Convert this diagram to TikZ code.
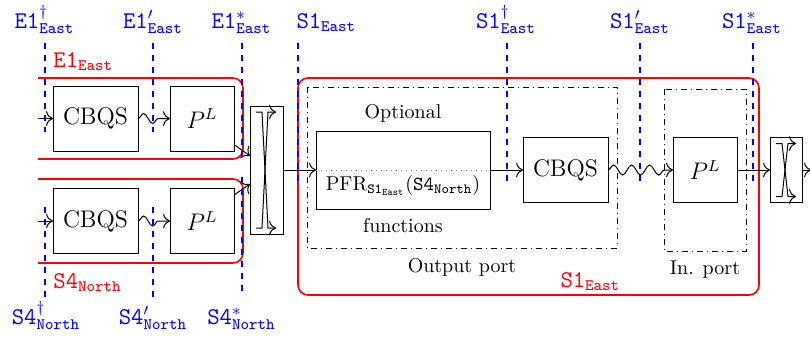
\documentclass[tikz,border=0pt]{standalone}
\usepackage{amsmath,amssymb}
\usepackage{xcolor}
\usepackage{tikz}
\usetikzlibrary{arrows.meta,positioning,decorations.pathmorphing}

\begin{document}
\begin{tikzpicture}[
			x=0.5pt,y=-0.5pt,
			line width=0.5pt,
			node distance=16.5pt,
			box/.style={draw,inner sep=0pt,outer sep=0pt,minimum height=32.5pt,font=\large},
			qbox/.style={box,minimum width=42.5pt},
			pbox/.style={box,minimum width=32pt},
			swbox/.style={draw,inner sep=0pt,outer sep=0pt,minimum width=16.5pt},
			arrow/.style={-{To[scale=1.3]}},
			wave/.style={arrow,decorate,decoration={snake,amplitude=2.5pt,segment length=9pt,post length=2pt}},
			zone/.style={red,thick,rounded corners=5pt},
			port/.style={dashdotted},
			cut/.style={blue,thick,dashed},
			cutlabel/.style={blue,inner sep=1pt,anchor=base,font=\large},
			zonelabel/.style={red,inner sep=1pt,anchor=base west,font=\large},
			note/.style={inner sep=1pt,anchor=base}
			]
			\useasboundingbox (0,0) rectangle (810,345);
			\draw[zone] (38,78) -| (243,159) -- (38,159);
			\draw[zone] (38,179) -| (243,263) -- (38,263);
			\draw[zone] (298,78) rectangle (759,295);
			\draw[port] (307,87) rectangle (617,248);
			\draw[port] (664,89) rectangle (746,251);
			\node[qbox] (cbqsA) at (95.5,118.5) {CBQS};
			\node[pbox, right=16pt of cbqsA] (plA) {$P^L$};
			\node[qbox] (cbqsB) at (95.5,221) {CBQS};
			\node[pbox, right=16pt of cbqsB] (plB) {$P^L$};
			\node[swbox, minimum height=64pt] (swA) at (266.5,170) {};
			\node[box, minimum width=87pt, minimum height=39pt, right=of swA] (pfr) {};
			\node[qbox, right=of pfr] (cbqsC) {CBQS};
			\node[pbox, right=32.5pt of cbqsC] (plC) {$P^L$};
			\node[swbox, minimum width=16pt, minimum height=32.5pt, right=of plC] (swB) {};
			\draw[dotted, gray] (pfr.west) -- (pfr.east);
			\node[note] (opt) at (403,118) {Optional};
			\node[note] (pfrtext) at (403,190) {PFR$_{\mathtt{S1}_{\mathtt{East}}}$($\mathtt{S4}_{\mathtt{North}}$)};
			\node[note] (fun) at (403,232) {functions};
			\node[note] (outport) at (462,272) {Output port};
			\node[note] (inport) at (705,274) {In. port};
			\coordinate (inA) at (38,118.5);
			\coordinate (inB) at (38,221);
			\coordinate (outB) at (811,170);
			\draw[arrow] (inA) -- (cbqsA);
			\draw[arrow] (inB) -- (cbqsB);
			\draw[wave] (cbqsA) -- (plA);
			\draw[wave] (cbqsB) -- (plB);
			\draw[arrow] ([yshift=-13pt]plA.east) -- ([yshift=7pt]swA.west);
			\draw[arrow] ([yshift=13pt]plB.east) -- ([yshift=-7pt]swA.west);
			\draw[arrow] (swA) -- (pfr);
			\draw[arrow] (pfr) -- (cbqsC);
			\draw[wave] (cbqsC) -- (plC);
			\draw[arrow] (plC) -- (swB);
			\draw[arrow] (swB) -- (outB);
			\draw[arrow] ([shift={(3pt,-3pt)}]swA.north west) -- ++(3pt,0) -- ([shift={(9pt,3pt)}]swA.south west) -- ++(4pt,0);
			\draw[arrow] ([shift={(3pt,3pt)}]swA.south west) -- ++(3pt,0) -- ([shift={(9pt,-3pt)}]swA.north west) -- ++(4pt,0);
			\draw[arrow] ([shift={(3pt,-3pt)}]swB.north west) -- ++(3pt,0) -- ([shift={(9pt,3pt)}]swB.south west) -- ++(4pt,0);
			\draw[arrow] ([shift={(3pt,3pt)}]swB.south west) -- ++(3pt,0) -- ([shift={(9pt,-3pt)}]swB.north west) -- ++(4pt,0);
			\draw[cut] (45,43) -- (45,132);
			\draw[cut] (153,43) -- (153,132);
			\draw[cut] (242,43) -- (242,160);
			\draw[cut] (45,207) -- (45,297);
			\draw[cut] (153,207) -- (153,297);
			\draw[cut] (242,177) -- (242,297);
			\draw[cut] (298,43) -- (298,182);
			\draw[cut] (507,43) -- (507,182);
			\draw[cut] (640,43) -- (640,182);
			\draw[cut] (753,43) -- (753,182);
			\node[cutlabel] (e1d) at (44.5,28) {$\mathtt{E1}^{\dagger}_{\mathtt{East}}$};
			\node[cutlabel] (e1p) at (153,28) {$\mathtt{E1}'_{\mathtt{East}}$};
			\node[cutlabel] (e1s) at (241.5,28) {$\mathtt{E1}^{*}_{\mathtt{East}}$};
			\node[cutlabel, anchor=base west] (s1) at (294,28) {$\mathtt{S1}_{\mathtt{East}}$};
			\node[cutlabel] (s1d) at (506,28) {$\mathtt{S1}^{\dagger}_{\mathtt{East}}$};
			\node[cutlabel] (s1p) at (640,28) {$\mathtt{S1}'_{\mathtt{East}}$};
			\node[cutlabel] (s1s) at (752,28) {$\mathtt{S1}^{*}_{\mathtt{East}}$};
			\node[cutlabel] (s4d) at (46,324) {$\mathtt{S4}^{\dagger}_{\mathtt{North}}$};
			\node[cutlabel] (s4p) at (153,324) {$\mathtt{S4}'_{\mathtt{North}}$};
			\node[cutlabel] (s4s) at (241.5,324) {$\mathtt{S4}^{*}_{\mathtt{North}}$};
			\node[zonelabel] (e1zone) at (51,67) {$\mathtt{E1}_{\mathtt{East}}$};
			\node[zonelabel] (s4zone) at (51,288) {$\mathtt{S4}_{\mathtt{North}}$};
			\node[zonelabel] (s1zone) at (558,287) {$\mathtt{S1}_{\mathtt{East}}$};
		\end{tikzpicture}
\end{document}
